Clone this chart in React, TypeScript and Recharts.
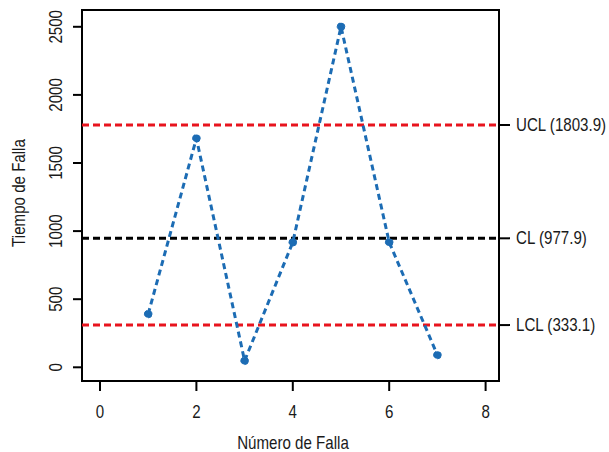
import React from 'react';
import { LineChart, Line, XAxis, YAxis, ReferenceLine, ReferenceArea } from 'recharts';

const failureNumbers = [1, 2, 3, 4, 5, 6, 7];
const failureTimes = [391, 1681, 48, 918, 2501, 918, 90];
const xTicks = [0, 2, 4, 6, 8];
const yTicks = [0, 500, 1000, 1500, 2000, 2500];
const limitLabels = ['LCL (333.1)', 'CL (977.9)', 'UCL (1803.9)'];
const limitPositions = [310, 947, 1779];
const limitColors = ['#e8141e', '#000000', '#e8141e'];

const X_DOMAIN: [number, number] = [-0.3734, 8.278];
const Y_DOMAIN: [number, number] = [-100.6, 2623.3];

const FONT = "'Liberation Sans', Arial, sans-serif";
const FS = 18;
const SX = 0.84;
const TXT = '#1a1a1a';

const data = failureNumbers.map((n, i) => ({ x: n, y: failureTimes[i] }));

const LeftTick = (props: any) => {
  const { y, payload } = props;
  return (
    <text transform={`translate(61.5, ${y}) rotate(-90) scale(${SX}, 1)`} x={0} y={0} textAnchor="middle"
      fontFamily={FONT} fontSize={FS} fill={TXT}>{payload.value}</text>
  );
};

const BottomTick = (props: any) => {
  const { x, payload } = props;
  return (
    <text transform={`translate(${x}, 418) scale(${SX}, 1)`} x={0} y={0} textAnchor="middle"
      fontFamily={FONT} fontSize={FS} fill={TXT}>{payload.value}</text>
  );
};

const RightTick = (props: any) => {
  const { y, payload } = props;
  const idx = limitPositions.indexOf(payload.value);
  return (
    <text transform={`translate(516, ${y + 6}) scale(${SX}, 1)`} x={0} y={0} textAnchor="start"
      fontFamily={FONT} fontSize={FS} fill={TXT}>
      {idx >= 0 ? limitLabels[idx] : ''}
    </text>
  );
};

export default function App() {
  return (
    <div style={{ position: 'absolute', left: 0, top: 0, width: 609, height: 452, background: '#fff' }}>
      <LineChart width={609} height={452} data={data} margin={{ top: 10, right: 0, bottom: 0, left: 0 }}>
        <XAxis
          type="number"
          dataKey="x"
          domain={X_DOMAIN}
          ticks={xTicks}
          allowDataOverflow
          height={71}
          axisLine={false}
          tickSize={10}
          tickLine={{ stroke: '#000', strokeWidth: 2 }}
          tick={<BottomTick />}
          interval={0}
          label={{
            value: 'Número de Falla',
            content: () => (
              <text transform={`translate(293, 449) scale(${SX}, 1)`} x={0} y={0} textAnchor="middle"
                fontFamily={FONT} fontSize={FS} fill={TXT}>Número de Falla</text>
            ),
          }}
        />
        <YAxis
          yAxisId="left"
          type="number"
          domain={Y_DOMAIN}
          ticks={yTicks}
          allowDataOverflow
          width={82}
          axisLine={false}
          tickSize={9}
          tickLine={{ stroke: '#000', strokeWidth: 2 }}
          tick={<LeftTick />}
          interval={0}
          label={{
            value: 'Tiempo de Falla',
            content: () => (
              <text transform={`translate(24.5, 193) rotate(-90) scale(${SX}, 1)`} x={0} y={0} textAnchor="middle"
                fontFamily={FONT} fontSize={FS} fill={TXT}>Tiempo de Falla</text>
            ),
          }}
        />
        <YAxis
          yAxisId="right"
          orientation="right"
          type="number"
          domain={Y_DOMAIN}
          ticks={limitPositions}
          allowDataOverflow
          width={110}
          axisLine={false}
          tickSize={11}
          tickLine={{ stroke: '#000', strokeWidth: 2 }}
          tick={<RightTick />}
          interval={0}
        />
        {limitPositions.map((v, i) => (
          <ReferenceLine key={i} yAxisId="left" y={v} stroke={limitColors[i]} strokeWidth={3}
            strokeDasharray="7 4" ifOverflow="visible" />
        ))}
        <Line
          yAxisId="left"
          type="linear"
          dataKey="y"
          stroke="#1c6cb4"
          strokeWidth={3}
          strokeDasharray="6 4"
          dot={{ r: 3.8, fill: '#1c6cb4', stroke: '#1c6cb4', strokeWidth: 1 }}
          isAnimationActive={false}
        />
        <ReferenceArea yAxisId="left" x1={X_DOMAIN[0]} x2={X_DOMAIN[1]} y1={Y_DOMAIN[0]} y2={Y_DOMAIN[1]}
          fill="none" fillOpacity={0} stroke="#000" strokeWidth={2} ifOverflow="visible" />
      </LineChart>
    </div>
  );
}
